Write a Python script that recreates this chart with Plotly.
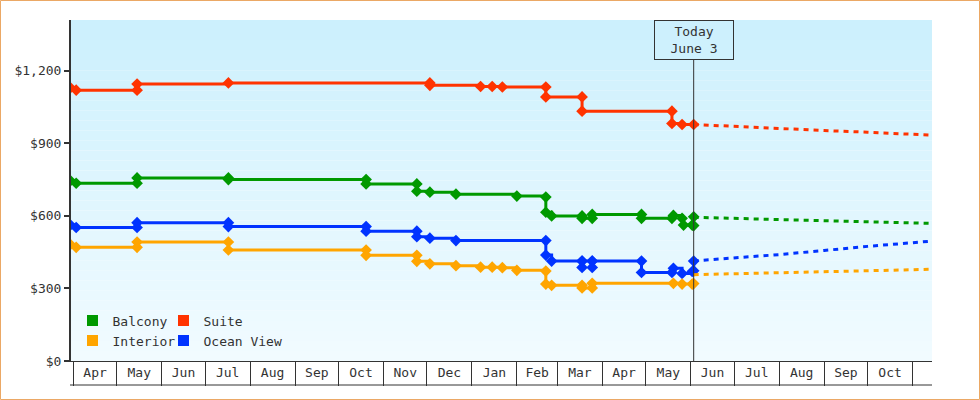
import plotly.graph_objects as go

# ---------------- data ----------------
suite_dates = ["2014-03-30", "2014-04-03", "2014-05-15", "2014-05-15", "2014-07-17",
               "2014-12-03", "2014-12-03", "2015-01-07", "2015-01-15", "2015-01-22",
               "2015-02-21", "2015-02-21", "2015-03-18", "2015-03-18", "2015-05-19",
               "2015-05-19", "2015-05-26", "2015-06-03"]
suite_vals = [1130, 1120, 1120, 1145, 1150,
              1150, 1140, 1135, 1135, 1133,
              1133, 1092, 1092, 1033, 1033,
              982, 978, 978]

balcony_dates = ["2014-03-30", "2014-04-03", "2014-05-15", "2014-05-15", "2014-07-17",
                 "2014-07-17", "2014-10-20", "2014-10-20", "2014-11-24", "2014-11-24",
                 "2014-12-03", "2014-12-21", "2015-02-01", "2015-02-21", "2015-02-21",
                 "2015-02-25", "2015-03-18", "2015-03-18", "2015-03-25", "2015-03-25",
                 "2015-04-28", "2015-04-28", "2015-05-19", "2015-05-20", "2015-05-26",
                 "2015-05-27", "2015-06-02", "2015-06-03", "2015-06-03"]
balcony_vals = [745, 735, 735, 757, 757,
                750, 750, 732, 732, 702,
                698, 690, 682, 678, 615,
                600, 600, 590, 590, 606,
                606, 590, 590, 602, 590,
                562, 562, 560, 596]

ocean_dates = ["2014-03-30", "2014-04-03", "2014-05-15", "2014-05-15", "2014-07-17",
               "2014-07-17", "2014-10-20", "2014-10-20", "2014-11-24", "2014-11-24",
               "2014-12-03", "2014-12-21", "2015-02-21", "2015-02-21", "2015-02-25",
               "2015-03-18", "2015-03-18", "2015-03-18", "2015-03-25", "2015-03-25",
               "2015-03-25", "2015-04-28", "2015-04-28", "2015-05-19", "2015-05-20",
               "2015-05-26", "2015-06-02", "2015-06-03", "2015-06-03"]
ocean_vals = [562, 552, 552, 572, 572,
              556, 556, 537, 537, 514,
              508, 498, 498, 438, 413,
              413, 387, 413, 413, 387,
              413, 413, 366, 366, 383,
              362, 370, 373, 413]

interior_dates = ["2014-03-30", "2014-04-03", "2014-05-15", "2014-05-15", "2014-07-17",
                  "2014-07-17", "2014-10-20", "2014-10-20", "2014-11-24", "2014-11-24",
                  "2014-12-03", "2014-12-21", "2015-01-07", "2015-01-15", "2015-01-22",
                  "2015-02-01", "2015-02-21", "2015-02-21", "2015-02-25", "2015-03-18",
                  "2015-03-18", "2015-03-25", "2015-03-25", "2015-05-20", "2015-05-26",
                  "2015-06-02", "2015-06-03"]
interior_vals = [482, 470, 470, 492, 492,
                 459, 459, 437, 437, 412,
                 402, 394, 388, 388, 386,
                 375, 372, 318, 313, 313,
                 302, 302, 321, 321, 318,
                 318, 320]

forecast_dates = ["2015-06-03", "2015-07-01", "2015-08-01", "2015-09-01", "2015-10-01", "2015-11-13"]
suite_fc = [978, 970, 960, 953, 946, 934]
balcony_fc = [594, 590, 586, 580, 575, 569]
ocean_fc = [414, 426, 440, 457, 474, 495]
interior_fc = [357, 361, 366, 369, 372, 379]

series_names = ["Balcony", "Suite", "Interior", "Ocean View"]
series_colors = ["#009900", "#ff3300", "#ffa500", "#0033ff"]
today = "2015-06-03"
today_label = "Today<br>June 3"
y_ticks = [0, 300, 600, 900, 1200]
y_tick_text = ["$" + format(v, ",") for v in y_ticks]

# ---------------- geometry ----------------
W, H = 980, 400
ML, MR, MT, MB = 71, 48, 20, 39
PW, PH = W - ML - MR, H - MT - MB
FONT = "DejaVu Sans Mono"
INK = "#333333"

fig = go.Figure()

hist = {
    "Balcony": (balcony_dates, balcony_vals, balcony_fc),
    "Suite": (suite_dates, suite_vals, suite_fc),
    "Interior": (interior_dates, interior_vals, interior_fc),
    "Ocean View": (ocean_dates, ocean_vals, ocean_fc),
}

draw_order = ["Suite", "Balcony", "Ocean View", "Interior"]
for name in draw_order:
    color = series_colors[series_names.index(name)]
    d, v, fc = hist[name]
    fig.add_trace(go.Scatter(x=forecast_dates, y=fc, mode="lines",
                             line=dict(color=color, width=3, dash="5px,5px"),
                             showlegend=False, hoverinfo="skip"))
    fig.add_trace(go.Scatter(x=d, y=v, mode="lines+markers",
                             line=dict(color=color, width=3, shape="hv"),
                             marker=dict(symbol="diamond", size=9, color=color),
                             showlegend=False, name=name))

# legend entries (square swatches), 2 rows x 2 columns, one legend per cell
legend_ids = ["legend", "legend2", "legend3", "legend4"]
for i, name in enumerate(series_names):
    fig.add_trace(go.Scatter(x=[None], y=[None], mode="markers", name=name,
                             marker=dict(symbol="square", size=11, color=series_colors[i]),
                             legend=legend_ids[i]))

# gradient background bands
top = (204, 240, 253)
bot = (241, 251, 255)
n = 34
shapes = []
for k in range(n):
    t = k / (n - 1)
    c = tuple(round(top[j] + (bot[j] - top[j]) * t) for j in range(3))
    shapes.append(dict(type="rect", xref="paper", yref="paper", x0=0, x1=1,
                       y0=1 - (k + 1) / n, y1=1 - k / n, line=dict(width=0),
                       fillcolor="rgb(%d,%d,%d)" % c, layer="below"))

# today line
shapes.append(dict(type="line", xref="x", yref="paper", x0=today, x1=today,
                   y0=0, y1=1 - 40 / PH, line=dict(color=INK, width=1)))
# bottom line of month cells
shapes.append(dict(type="line", xref="paper", yref="paper", x0=-1 / PW, x1=1,
                   y0=-24 / PH, y1=-24 / PH, line=dict(color=INK, width=1)))
# outer frame
shapes.append(dict(type="rect", xref="paper", yref="paper",
                   x0=(0.5 - ML) / PW, x1=(W - 0.5 - ML) / PW,
                   y0=(MT + PH - (H - 0.5)) / PH, y1=(MT + PH - 0.5) / PH,
                   line=dict(color="#eba865", width=1), fillcolor="rgba(0,0,0,0)"))

legend_common = dict(orientation="h", xanchor="left", yanchor="middle",
                     bgcolor="rgba(0,0,0,0)",
                     font=dict(family=FONT, size=13, color=INK),
                     itemclick=False, itemdoubleclick=False)
col_x = [(72.5 - ML) / PW, (163.5 - ML) / PW]
row_y = [(MT + PH - 320.5) / PH, (MT + PH - 340.5) / PH]
legend_layout = {}
for i, lid in enumerate(legend_ids):
    legend_layout[lid] = dict(x=col_x[i % 2], y=row_y[i // 2], **legend_common)

fig.update_layout(
    width=W, height=H,
    margin=dict(l=ML, r=MR, t=MT, b=MB),
    paper_bgcolor="white",
    plot_bgcolor="rgba(0,0,0,0)",
    font=dict(family=FONT, size=13, color=INK),
    shapes=shapes,
    annotations=[dict(x=today, xref="x", y=1, yref="paper", yanchor="top",
                      xanchor="center", text=today_label, showarrow=False,
                      bordercolor=INK, borderwidth=1, borderpad=0,
                      width=78, height=38,
                      font=dict(family=FONT, size=13, color=INK))],
    xaxis=dict(type="date", range=["2014-03-30 10:00", "2015-11-14 10:00"],
               showgrid=False, zeroline=False, showline=True,
               linecolor=INK, linewidth=1,
               ticks="outside", ticklen=24, tickcolor=INK, tickwidth=1,
               dtick="M1", tick0="2014-04-01", tickformat="%b",
               ticklabelmode="period", ticklabelstandoff=-25,
               tickfont=dict(family=FONT, size=13, color=INK)),
    yaxis=dict(range=[0, 1410], showgrid=False, zeroline=False, showline=True,
               linecolor=INK, linewidth=2, tickmode="array",
               tickvals=y_ticks, ticktext=y_tick_text,
               ticks="outside", ticklen=5,
               tickwidth=2, tickcolor=INK,
               tickfont=dict(family=FONT, size=13, color=INK)),
    hovermode=False,
    **legend_layout,
)

fig.write_html("out.html")
